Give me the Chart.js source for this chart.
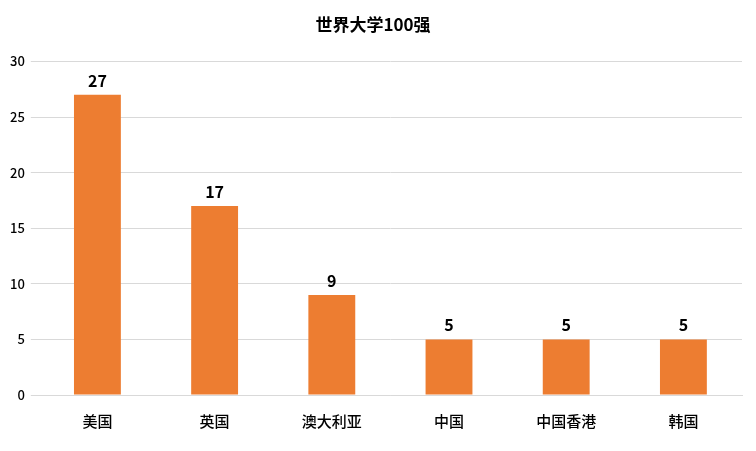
<!DOCTYPE html>
<html><head><meta charset="utf-8">
<script src="https://cdn.jsdelivr.net/npm/chart.js@4/dist/chart.umd.min.js"></script>
<style>html,body{margin:0;padding:0;background:#fff}#wrap{width:756px;height:451px}</style>
</head><body><div id="wrap"><canvas id="c"></canvas></div>
<script>
const categories = ["美国", "英国", "澳大利亚", "中国", "中国香港", "韩国"];
const counts = [27, 17, 9, 5, 5, 5];
const yTicks = [0, 5, 10, 15, 20, 25, 30];

const FONT = "'Noto Sans CJK SC', 'Noto Sans', sans-serif";

const barLabels = {
    id: 'barLabels',
    afterDatasetsDraw(chart) {
        const ctx = chart.ctx;
        const meta = chart.getDatasetMeta(0);
        ctx.save();
        ctx.font = "bold 16px " + FONT;
        ctx.fillStyle = "#000";
        ctx.textAlign = "center";
        ctx.textBaseline = "bottom";
        meta.data.forEach((bar, i) => {
            ctx.fillText(counts[i], bar.x, bar.y - 6);
        });
        ctx.restore();
    }
};

new Chart(document.getElementById("c"), {
    type: "bar",
    data: {
        labels: categories,
        datasets: [{
            data: counts,
            backgroundColor: "#ED7D31",
            barPercentage: 0.4,
            categoryPercentage: 1.0
        }]
    },
    options: {
        responsive: true,
        maintainAspectRatio: false,
        animation: false,
        layout: { padding: { left: 4, right: 14, top: 0, bottom: 12 } },
        plugins: {
            legend: { display: false },
            tooltip: { enabled: false },
            title: {
                display: true,
                text: "世界大学100强",
                color: "#000",
                font: { family: FONT, size: 17, weight: "bold" },
                padding: { top: 14, bottom: 27 }
            }
        },
        scales: {
            x: {
                grid: { display: false },
                border: { color: "#d9d9d9" },
                ticks: { color: "#000", font: { family: FONT, size: 15, weight: 500 }, padding: 9 }
            },
            y: {
                min: 0, max: 30,
                afterBuildTicks(axis) { axis.ticks = yTicks.map(v => ({ value: v })); },
                grid: { color: "#d9d9d9" },
                border: { display: false },
                ticks: { color: "#000", font: { family: FONT, size: 13, weight: 500 }, padding: 6 }
            }
        }
    },
    plugins: [barLabels]
});
</script></body></html>
